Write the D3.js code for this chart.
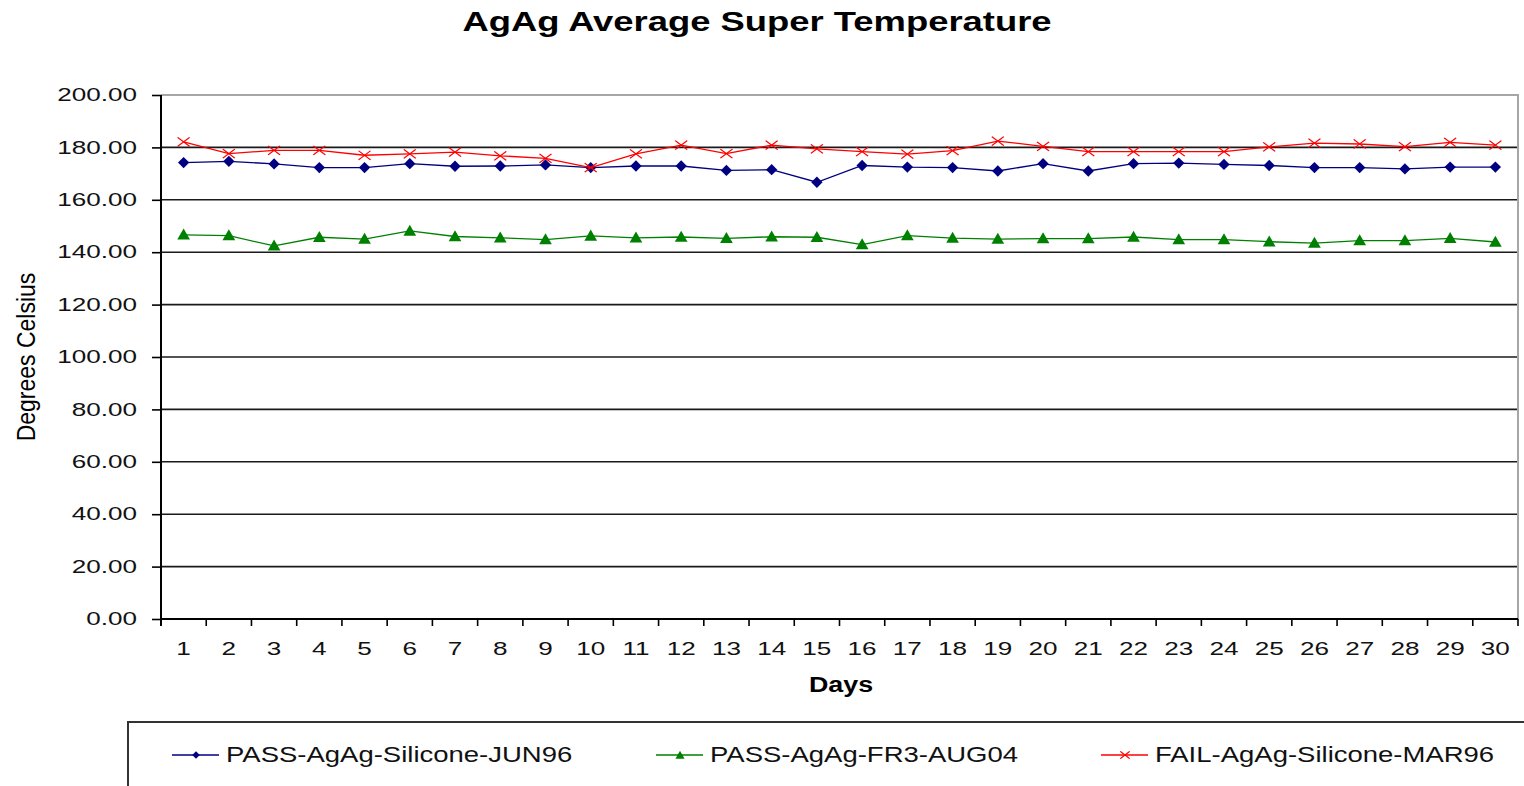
<!DOCTYPE html>
<html>
<head>
<meta charset="utf-8">
<script src="https://cdn.jsdelivr.net/npm/d3@7"></script>
<style>
  body { margin: 0; background: #fff; }
  svg { display: block; font-family: "Liberation Sans", Arial, Helvetica, sans-serif; }
</style>
</head>
<body>
<svg id="chart" width="1524" height="786"></svg>
<script>
// chart data
const DAYS = d3.range(1, 31);
const Y_TICKS = [0, 20, 40, 60, 80, 100, 120, 140, 160, 180, 200];

const PASS_JUN96 = [174.2, 174.7, 173.7, 172.3, 172.3, 173.8, 172.8, 172.9, 173.3, 172.3,
                    172.9, 172.9, 171.2, 171.5, 166.7, 173.1, 172.5, 172.3, 171.0, 173.8,
                    171.0, 173.8, 174.0, 173.5, 173.1, 172.3, 172.3, 171.8, 172.5, 172.5];
const PASS_AUG04 = [146.6, 146.3, 142.4, 145.7, 145.0, 148.1, 146.0, 145.5, 144.8, 146.2,
                    145.5, 145.8, 145.3, 145.9, 145.7, 142.9, 146.3, 145.4, 145.0, 145.2,
                    145.2, 145.8, 144.8, 144.8, 144.0, 143.5, 144.4, 144.4, 145.3, 143.9];
const FAIL_MAR96 = [182.1, 177.6, 178.9, 178.9, 177.0, 177.5, 178.2, 176.8, 175.8, 172.3,
                    177.5, 180.9, 177.6, 180.9, 179.4, 178.4, 177.4, 178.8, 182.4, 180.4,
                    178.4, 178.4, 178.4, 178.4, 180.2, 181.6, 181.3, 180.3, 181.9, 180.9];

const SERIES = [
  { name: "PASS-AgAg-Silicone-JUN96", values: PASS_JUN96, color: "#000080", marker: "diamond" },
  { name: "PASS-AgAg-FR3-AUG04", values: PASS_AUG04, color: "#008000", marker: "triangle" },
  { name: "FAIL-AgAg-Silicone-MAR96", values: FAIL_MAR96, color: "#ff0000", marker: "x" }
];

const LEFT = 161, RIGHT = 1518, TOP = 95, BOTTOM = 619;
const svg = d3.select("#chart");

const X_SCALE = d3.scaleBand().domain(DAYS).range([LEFT, RIGHT]).padding(0);
const Y_SCALE = d3.scaleLinear().domain([0, 200]).range([BOTTOM, TOP]);
const xMid = d => X_SCALE(d) + X_SCALE.bandwidth() / 2;

function drawMarker(sel, type, color, big) {
  if (type === "diamond") {
    sel.append("path")
      .attr("d", d3.symbol(d3.symbolSquare, big ? 64 : 28)())
      .attr("transform", "rotate(45)")
      .attr("fill", color);
  } else if (type === "triangle") {
    sel.append("path")
      .attr("d", d3.symbol(d3.symbolTriangle, big ? 70 : 36)())
      .attr("transform", "translate(0,1)")
      .attr("fill", color);
  } else {
    sel.append("path")
      .attr("d", d3.symbol(d3.symbolX, big ? 96 : 60)())
      .attr("transform", "scale(1,0.75)")
      .attr("fill", "none")
      .attr("stroke", color)
      .attr("stroke-width", 1.4);
  }
}

// title
svg.append("g")
  .attr("transform", "translate(757,31)")
  .append("text")
  .attr("text-anchor", "middle")
  .attr("transform", "scale(1.3,1)")
  .attr("font-size", 28)
  .attr("font-weight", "bold")
  .text("AgAg Average Super Temperature");

// gridlines
svg.append("g")
  .selectAll("line")
  .data(Y_TICKS.filter(t => t > 0 && t < 200))
  .enter()
  .append("line")
  .attr("x1", LEFT).attr("x2", RIGHT)
  .attr("y1", d => Y_SCALE(d)).attr("y2", d => Y_SCALE(d))
  .attr("stroke", "#1a1a1a")
  .attr("stroke-width", 1.6);

// plot border (top + right)
svg.append("path")
  .attr("d", `M${LEFT},${Y_SCALE(200)}H${RIGHT}V${BOTTOM}`)
  .attr("fill", "none")
  .attr("stroke", "#a6a6a6")
  .attr("stroke-width", 2);

// y axis
const TICK_SX = 1.45;
const yAxis = svg.append("g")
  .attr("transform", `translate(${LEFT},0)`)
  .call(d3.axisLeft(Y_SCALE).tickValues(Y_TICKS).tickSize(9).tickSizeOuter(0).tickFormat(d3.format(".2f")));
yAxis.select(".domain").attr("stroke", "#000").attr("stroke-width", 2)
  .attr("d", `M0,${TOP}V${BOTTOM + 7}`);
yAxis.selectAll(".tick line").attr("stroke", "#000").attr("stroke-width", 1.6);
yAxis.selectAll(".tick text")
  .attr("x", -24 / TICK_SX)
  .attr("transform", `scale(${TICK_SX},1)`)
  .attr("font-size", 18)
  .attr("fill", "#111")
  .attr("font-family", null);

// x axis
const xAxis = svg.append("g")
  .attr("transform", `translate(0,${BOTTOM})`)
  .call(d3.axisBottom(X_SCALE).tickSize(0).tickSizeOuter(0));
xAxis.select(".domain").attr("stroke", "#000").attr("stroke-width", 2)
  .attr("d", `M${LEFT},0H${RIGHT}`);
xAxis.selectAll(".tick text")
  .attr("y", 36)
  .attr("dy", 0)
  .attr("transform", `scale(${TICK_SX},1)`)
  .attr("font-size", 18)
  .attr("fill", "#111")
  .attr("font-family", null);
xAxis.append("g")
  .selectAll("line")
  .data(DAYS.map(d => X_SCALE(d)).concat([RIGHT]))
  .enter()
  .append("line")
  .attr("x1", d => d).attr("x2", d => d)
  .attr("y1", 0).attr("y2", 7)
  .attr("stroke", "#000")
  .attr("stroke-width", 1.6);

// axis titles
svg.append("g")
  .attr("transform", "translate(841,692)")
  .append("text")
  .attr("text-anchor", "middle")
  .attr("transform", "scale(1.22,1)")
  .attr("font-size", 22)
  .attr("font-weight", "bold")
  .text("Days");

svg.append("text")
  .attr("transform", "translate(35,357) rotate(-90) scale(1,1.1)")
  .attr("text-anchor", "middle")
  .attr("font-size", 23)
  .text("Degrees Celsius");

// series
const line = d3.line().x((v, i) => xMid(DAYS[i])).y(v => Y_SCALE(v));
SERIES.forEach(s => {
  svg.append("path")
    .datum(s.values)
    .attr("d", line)
    .attr("fill", "none")
    .attr("stroke", s.color)
    .attr("stroke-width", 1.3);
  svg.append("g")
    .selectAll("g")
    .data(s.values)
    .enter()
    .append("g")
    .attr("transform", (v, i) => `translate(${xMid(DAYS[i])},${Y_SCALE(v)})`)
    .each(function () { drawMarker(d3.select(this), s.marker, s.color, true); });
});

// legend
svg.append("path")
  .attr("d", "M128,790V722H1530")
  .attr("fill", "none")
  .attr("stroke", "#333")
  .attr("stroke-width", 2);

const LEGEND_X = [172, 656, 1101];
SERIES.forEach((s, i) => {
  const g = svg.append("g").attr("transform", `translate(${LEGEND_X[i]},755)`);
  g.append("line")
    .attr("x1", 0).attr("x2", 47)
    .attr("stroke", s.color)
    .attr("stroke-width", 1.3);
  drawMarker(g.append("g").attr("transform", "translate(24,0)"), s.marker, s.color, false);
  g.append("g")
    .attr("transform", "translate(54,7)")
    .append("text")
    .attr("transform", "scale(1.25,1)")
    .attr("font-size", 22)
    .attr("fill", "#111")
    .text(s.name);
});
</script>
</body>
</html>
